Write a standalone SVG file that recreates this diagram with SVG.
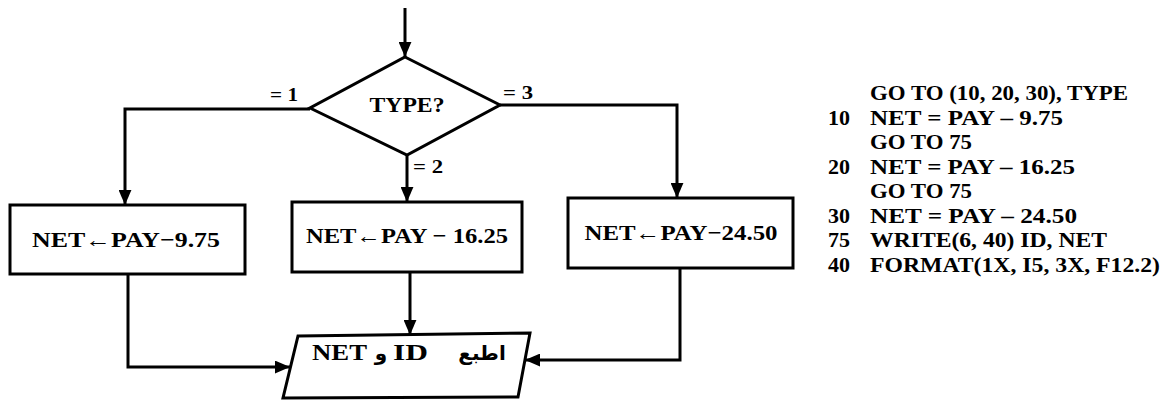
<svg xmlns="http://www.w3.org/2000/svg" width="1166" height="400" viewBox="0 0 1166 400">
  <style>
    .shape { fill: #fff; stroke: #000; stroke-width: 3; stroke-linejoin: miter; }
    .conn { fill: none; stroke: #000; stroke-width: 3; }
    .t { font-family: "Liberation Serif", "Times New Roman", serif; font-weight: bold; fill: #000; }
    .lbl { font-size: 22px; text-anchor: middle; }
    .cond { font-size: 19px; }
    .code { font-size: 22px; }
    .ar { font-family: "DejaVu Sans", sans-serif; font-weight: bold; font-size: 20px; fill: #000; }
  </style>
  <defs>
    <marker id="ah" viewBox="0 0 14 12" refX="14" refY="6" markerWidth="15" markerHeight="13" orient="auto" markerUnits="userSpaceOnUse">
      <path d="M0,0 L14,6 L0,12 z" fill="#000"/>
    </marker>
  </defs>

  <g id="connectors">
    <path class="conn" d="M405,8 V57" marker-end="url(#ah)"/>
    <path class="conn" d="M310,109 H125 V205" marker-end="url(#ah)"/>
    <path class="conn" d="M407,155 V202" marker-end="url(#ah)"/>
    <path class="conn" d="M500,105 H677 V198" marker-end="url(#ah)"/>
    <path class="conn" d="M128,274 V367 H290" marker-end="url(#ah)"/>
    <path class="conn" d="M410,272 V335" marker-end="url(#ah)"/>
    <path class="conn" d="M680,268 V360 H525" marker-end="url(#ah)"/>
    <text class="t cond" x="270" y="101" textLength="28" lengthAdjust="spacingAndGlyphs">= 1</text>
    <text class="t cond" x="413" y="173" textLength="30" lengthAdjust="spacingAndGlyphs">= 2</text>
    <text class="t cond" x="503" y="99" textLength="30" lengthAdjust="spacingAndGlyphs">= 3</text>
  </g>

  <g id="decision">
    <polygon class="shape" points="405,57 500,105 407,155 310,108"/>
    <text class="t lbl" x="407" y="112" textLength="75" lengthAdjust="spacingAndGlyphs">TYPE?</text>
  </g>

  <g id="box1">
    <rect class="shape" x="10" y="205" width="235" height="69"/>
    <text class="t lbl" x="126" y="247" textLength="188" lengthAdjust="spacingAndGlyphs">NET←PAY−9.75</text>
  </g>

  <g id="box2">
    <rect class="shape" x="292" y="202" width="230" height="70"/>
    <text class="t lbl" x="407" y="243" textLength="202" lengthAdjust="spacingAndGlyphs">NET←PAY − 16.25</text>
  </g>

  <g id="box3">
    <rect class="shape" x="568" y="198" width="225" height="70"/>
    <text class="t lbl" x="681" y="240" textLength="193" lengthAdjust="spacingAndGlyphs">NET←PAY−24.50</text>
  </g>

  <g id="output">
    <polygon class="shape" points="298,336 530,333 518,397 283,398"/>
    <text class="t" font-size="24" x="312" y="360" textLength="55" lengthAdjust="spacingAndGlyphs">NET</text>
    <text class="ar" x="381" y="360" text-anchor="middle">و</text>
    <text class="t" font-size="24" x="393" y="360" textLength="35" lengthAdjust="spacingAndGlyphs">ID</text>
    <text class="ar" x="482" y="360" text-anchor="middle">اطبع</text>
  </g>

  <g id="code">
    <text class="t code" x="870" y="100" textLength="258" lengthAdjust="spacingAndGlyphs">GO TO (10, 20, 30), TYPE</text>
    <text class="t code" x="828" y="124.5">10</text>
    <text class="t code" x="870" y="124.5" textLength="193" lengthAdjust="spacingAndGlyphs">NET = PAY – 9.75</text>
    <text class="t code" x="870" y="149" textLength="102" lengthAdjust="spacingAndGlyphs">GO TO 75</text>
    <text class="t code" x="828" y="173.5">20</text>
    <text class="t code" x="870" y="173.5" textLength="205" lengthAdjust="spacingAndGlyphs">NET = PAY – 16.25</text>
    <text class="t code" x="870" y="198" textLength="102" lengthAdjust="spacingAndGlyphs">GO TO 75</text>
    <text class="t code" x="828" y="222.5">30</text>
    <text class="t code" x="870" y="222.5" textLength="207" lengthAdjust="spacingAndGlyphs">NET = PAY – 24.50</text>
    <text class="t code" x="828" y="247">75</text>
    <text class="t code" x="870" y="247" textLength="237" lengthAdjust="spacingAndGlyphs">WRITE(6, 40) ID, NET</text>
    <text class="t code" x="828" y="271.5">40</text>
    <text class="t code" x="870" y="271.5" textLength="290" lengthAdjust="spacingAndGlyphs">FORMAT(1X, I5, 3X, F12.2)</text>
  </g>
</svg>
